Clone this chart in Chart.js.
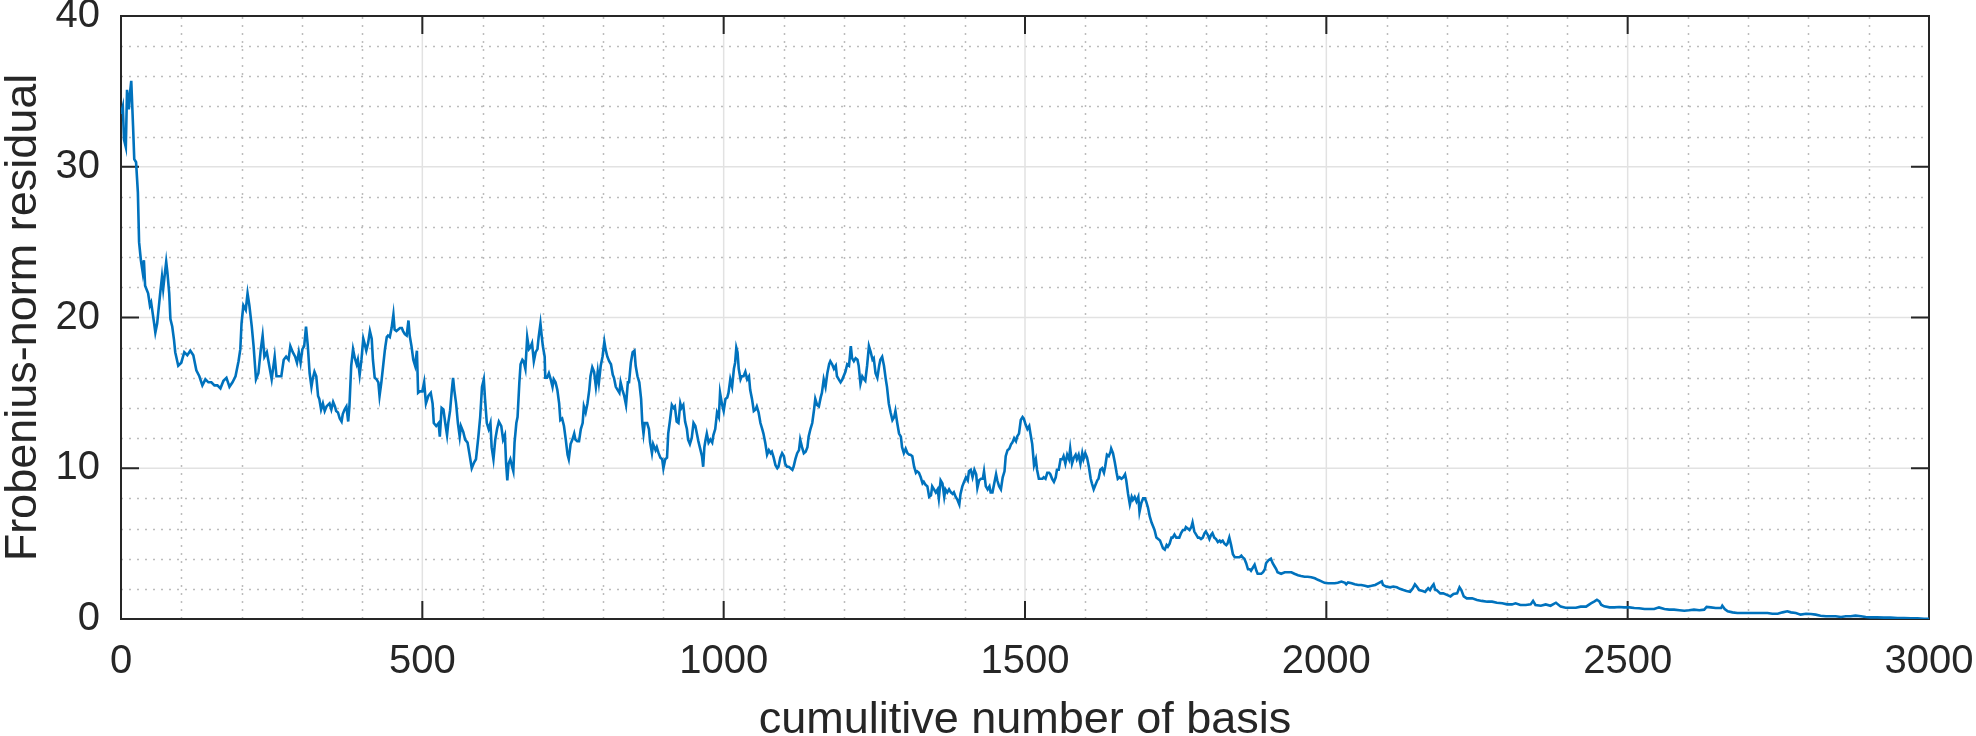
<!DOCTYPE html>
<html>
<head>
<meta charset="utf-8">
<title>Frobenius-norm residual</title>
<script src="https://cdn.jsdelivr.net/npm/chart.js@4.4.1/dist/chart.umd.min.js"></script>
<style>
  html, body { margin: 0; padding: 0; background: #ffffff; }
  #wrap { width: 1976px; height: 736px; }
</style>
</head>
<body>
<div id="wrap"><canvas id="residualChart" width="1976" height="736"></canvas></div>
<script>
// cumulative number of basis (x) and Frobenius-norm residual (y)
const basisCount = [
  0,3,5,8,10,13,15,17,20,22,25,28,30,33,36,38,40,45,48,50,55,57,60,65,68,70,73,75,77,80,82,85,88,90,95,
  100,105,110,115,120,125,130,135,140,145,150,155,160,165,170,175,180,185,190,195,198,200,203,207,210,213,
  217,220,224,228,232,235,238,242,246,250,255,258,262,266,270,274,278,281,285,289,292,295,
  298,301,304,307,310,313,316,318,321,324,327,329,332,335,338,341,346,349,352,355,357,360,363,366,368,371,
  374,377,379,382,385,388,391,393,396,399,402,404,407,410,413,416,418,421,424,427,429,432,435,438,441,443,
  446,449,452,454,457,460,463,466,468,471,474,477,479,482,485,488,491,493,496,
  500,503,506,510,514,517,519,523,527,529,532,535,538,541,543,546,549,551,553,556,
  559,562,564,568,571,575,578,582,586,589,593,596,599,602,604,607,610,613,615,618,
  621,624,627,631,634,637,639,641,643,646,649,651,653,656,658,661,663,666,668,671,
  674,677,679,682,685,688,691,693,696,698,700,703,704,707,710,713,716,718,721,724,
  727,729,732,735,738,741,743,746,749,752,754,757,760,763,766,768,771,774,777,779,
  782,785,788,791,793,796,799,802,804,807,810,813,816,818,821,824,827,829,832,835,
  838,841,843,846,849,852,854,857,860,863,865,867,869,873,876,878,881,883,887,889,
  892,895,898,900,903,906,908,911,914,917,919,922,925,928,930,933,936,939,941,944,
  947,950,953,956,958,961,
  964,966,968,970,972,975,978,981,983,986,989,992,994,997,1000,1003,1006,1008,1011,1014,
  1017,1019,1021,1023,1025,1028,1030,1033,1036,1039,1042,1044,1047,1050,1053,1055,1058,1061,1064,1066,
  1069,1072,1075,1078,1080,1083,1086,1089,1091,1094,1097,1100,1102,1105,1108,1111,1114,1116,1119,1122,
  1125,1127,1130,1133,1136,1139,1141,1144,1147,1150,1152,1155,1158,1161,1163,1166,1169,1172,1175,1177,
  1180,1183,1186,1188,1191,1194,1197,1199,1202,1205,1208,1211,1213,1216,1219,1222,1224,1227,1230,1233,
  1235,1238,1241,1244,1247,1249,1252,1255,1258,1260,1263,1266,1269,1271,1274,1277,1280,1283,1285,1288,
  1291,1294,1296,1299,1302,1305,1308,1310,1313,1316,1319,1321,1324,1327,1330,1332,1335,1338,1341,1344,
  1346,1349,1352,1355,1357,1360,1363,1366,1368,1371,1374,1377,1380,1382,1385,1388,1391,1393,1396,1399,
  1402,1405,1407,1410,1413,1416,1419,1421,1424,
  1427,1430,1432,1435,1438,1441,1443,1446,1449,1452,1454,1457,1460,1463,1466,1468,1471,1474,1477,1479,
  1482,1485,1487,1490,1493,1496,1498,1501,1504,1507,1509,1512,1515,1518,1520,1523,1526,1529,1531,1534,
  1537,1540,1542,1545,1548,1551,1553,1556,1559,1562,1564,1567,1570,1573,1575,1578,1581,1584,1586,1589,
  1592,1595,1597,1600,1603,1606,1609,1611,1614,1617,1620,1622,1625,1628,1631,1633,1636,1639,1642,1643,
  1646,1649,1652,1654,1657,1660,1663,1666,1668,1671,1674,1677,1679,1682,1685,1688,1690,1693,1696,1699,
  1701,1704,1707,1710,1713,1715,1718,1721,1724,1726,1729,1732,1735,1737,1740,1743,1745,1748,1751,1754,
  1756,1759,1762,1765,1767,1770,1773,1776,1778,1781,1784,1787,1789,1792,1795,1798,1800,1803,1806,1809,
  1811,1814,1817,1820,1823,1825,1828,1831,1834,1836,1839,1842,1845,1848,1850,1853,1856,1859,1861,1864,
  1867,1870,1873,1875,1878,1881,1884,1886,1889,1892,1895,1898,1900,1904,
  1908,1911,1914,1917,1919,1925,1931,1936,1942,1947,1953,1958,1964,1969,1975,1981,1986,1992,1997,2003,
  2008,2014,2019,2025,2031,2033,2036,2042,2047,2053,2058,2064,2069,2075,2081,2086,2092,2094,2099,2106,
  2111,2117,2122,2128,2133,2139,2143,2147,2150,2154,2160,2164,2169,2172,2175,2178,2181,2183,2189,2194,
  2200,2206,2211,2217,2221,2224,2228,2233,2242,2250,2258,2267,2275,2283,2292,2300,2308,2314,2322,2331,
  2339,2343,2347,2356,2364,2372,2381,2389,2397,2406,2414,2422,2431,2439,
  2445,2449,2453,2456,2461,2470,2478,2486,2494,2503,2511,2519,2528,2536,2544,2552,2561,2569,2577,2586,
  2594,2602,2610,2619,2627,2631,2638,2646,2655,2657,2661,2666,2674,2682,2691,2699,2707,2715,2724,2732,
  2740,2749,2757,2765,2771,2779,2787,2796,2804,2812,2820,2829,2837,2845,2854,2862,2870,2878,2887,2895,
  2903,2914,2925,2936,2948,2959,2970,2981,2992,3000
];

const residual = [
  33.5,34,31.8,31.3,35.1,33.8,34.9,35.7,32.7,30.5,30.3,28.3,25,23.8,23,23.8,22.1,21.6,20.8,21,19.6,19,19.6,21.6,22.7,21.9,23,23.7,23,21.6,19.9,19.4,18.5,17.7,16.8,
  17,17.7,17.5,17.8,17.5,16.5,16.1,15.5,15.9,15.7,15.7,15.5,15.5,15.3,15.8,16,15.4,15.7,16.1,17.1,17.9,19.6,20.8,20.5,21.6,20.8,
  19.4,18.1,15.9,16.3,17.9,18.8,17.4,17.7,16.8,15.9,17.4,16.1,16.1,16.1,17.2,17.4,17.2,18.1,17.7,17.4,17,17.7,
  17,17.9,18.1,19.4,18.1,16.3,15.4,15.9,16.4,16.1,14.8,14.6,13.9,14.3,13.8,14.1,14.3,13.9,14.4,14.1,13.8,13.7,13.3,13.1,13.6,13.9,
  14.1,13.1,14.1,16.8,17.9,17.3,16.9,17.2,16.2,17.2,18.6,18.3,17.8,18.3,19.1,18.6,17.2,16,15.9,15.7,14.8,15.7,16.8,17.9,18.7,18.8,
  18.7,19.3,20.2,19.2,19.1,19.2,19.3,19.3,19.1,18.9,18.8,19.8,18.8,18.1,17.2,16.8,17.8,15,15.1,
  15.1,15.7,14.3,14.8,15,14.3,13,12.8,13,12.1,14,13.9,13,12.2,13,13.8,15.2,16,15.2,14.3,
  13,12.1,12.8,12.4,11.9,11.7,11,10,10.4,10.6,12.1,13.4,15.4,15.9,14.6,13,12.6,13,11.4,10.6,
  11.9,12.6,13.1,12.8,11.9,12.2,10.3,9.2,10.3,10.6,10.1,9.8,11.7,13,13.4,15.7,16.9,17.2,17.1,16.6,
  18.7,17.9,18,18.3,17.1,17.7,17.9,18.7,19.6,18.8,18.1,17.4,16,16,16.3,15.9,15.4,15.9,15.7,15.2,
  14.3,13.2,13.3,12.8,11.9,10.9,10.6,11.6,11.9,12.3,11.9,11.8,11.8,12.6,13,14.1,13.7,14.3,15.2,16.1,
  16.7,16.4,15.4,16.4,15.7,16.8,17.4,18.4,17.9,17.4,17.1,16.9,16.2,16,15.4,15.2,15,15.7,15.2,14.8,
  14.2,15.7,15.7,17,17.7,17.8,16.8,16.1,15.7,14.6,13,12.3,13,13,12.6,11.7,11,11.6,11.2,11.4,
  11,10.7,10.6,10,10.6,10.7,12.3,13.2,14.2,14,14.1,13.1,13,14.3,14,14.2,13.1,12.6,11.9,11.6,
  12,13,12.8,12.2,11.8,11.3,
  10.8,10.1,11.4,11.9,12.3,11.7,11.9,11.7,12.2,12.6,13.7,13.4,15,14.3,13.8,14.6,14.7,15,15.9,15.4,
  16.6,17,18,17.7,16.6,15.9,16.1,16.1,16.4,15.9,16.1,15.2,14.6,13.8,13.9,14.1,13.7,13,12.6,12.3,
  11.7,10.9,11.2,11,11.1,10.7,10.2,10,10.1,10.7,11,10.8,10.3,10.1,10.1,10,9.9,10.1,10.6,11,
  11.2,11.9,11.4,11,11.1,11.4,12.1,12.6,13,13.9,14.6,14.2,14.1,14.7,15,15.9,15.4,16.3,16.9,17.1,
  16.9,16.6,16.8,16.1,15.9,15.7,15.9,16.1,16.4,16.9,16.8,18.1,17.3,17.1,17.3,17.2,16.8,15.6,16.1,15.9,
  15.8,16.8,18.1,17.7,17.2,17.3,16.3,16,16.8,17.2,17.4,16.8,15.9,15.4,14.3,13.7,13.2,13.4,13.8,13,
  12.3,12.1,11.4,11,11.3,11,10.9,10.9,10.8,10.1,9.7,9.8,9.7,9.4,9,9.1,8.9,8.8,8.1,8.2,
  8.8,8.6,8.4,8.6,8,9.2,9,8.1,8.6,8.4,8.6,8.4,8.3,8.4,8.1,7.9,7.6,8.3,8.8,9.1,
  9.4,9.2,9.8,9.9,9.4,9.9,9.6,8.7,9.2,
  9.3,9.3,9.8,8.8,8.6,8.8,8.4,8.4,9,9.6,9.2,8.8,8.6,9.4,9.8,10.8,11.2,11.3,11.6,11.7,
  12,11.8,12.1,12.3,13.2,13.4,13.3,12.9,12.6,12.8,12.3,11.6,10.2,10.6,9.9,9.3,9.3,9.3,9.4,9.3,
  9.7,9.7,9.6,9.3,9.1,9.4,9.9,9.9,10.6,10.6,10.8,10.3,10.9,10.6,11.3,10.3,10.7,10.9,10.6,10.9,
  10.3,11,10.6,11,10.7,10.1,9.3,9,8.6,8.9,9.2,9.3,9.9,10,9.7,10.1,10.9,10.8,11.1,11.3,
  11,10.4,9.7,9.3,9.4,9.3,9.4,9.6,9.2,8.3,7.6,8.1,7.9,8.1,7.8,8.1,7.1,7.7,8,8,
  7.8,7.4,6.8,6.4,6.1,5.9,5.4,5.3,5.2,5,4.7,4.6,4.9,4.8,5,5.4,5.4,5.6,5.4,5.4,
  5.4,5.7,5.9,5.9,6.1,6,5.9,6.1,6.4,5.8,5.6,5.4,5.4,5.3,5.4,5.7,5.8,5.6,5.3,5.6,
  5.7,5.4,5.3,5.1,5.2,5.1,5.2,5,4.9,5,5.4,4.9,4.3,4.1,4.1,4.1,4.1,4.2,4.1,4,
  3.7,3.3,3.3,3.2,3.4,3.6,3.2,3,3,3,3.1,3.3,3.7,3.9,
  4,3.7,3.5,3.3,3.1,3,3.1,3.1,3.1,3,2.9,2.85,2.8,2.8,2.77,2.7,2.6,2.5,2.4,2.37,
  2.37,2.37,2.4,2.48,2.4,2.3,2.43,2.37,2.3,2.26,2.26,2.2,2.15,2.2,2.26,2.37,2.5,2.26,2.15,2.1,
  2.15,2.1,2,1.92,1.86,1.8,2,2.3,2.15,1.92,1.86,1.8,2.04,1.92,2.15,2.3,1.92,1.92,1.7,1.7,
  1.6,1.5,1.66,1.7,2.1,1.92,1.5,1.37,1.37,1.26,1.2,1.15,1.15,1.08,1.04,0.97,0.97,1.04,0.93,0.93,
  0.97,1.2,0.93,0.88,0.97,0.88,1.08,0.82,0.75,0.75,0.75,0.82,0.82,1.04,
  1.17,1.28,1.17,0.95,0.84,0.77,0.77,0.8,0.77,0.77,0.73,0.71,0.66,0.66,0.66,0.77,0.66,0.62,0.62,0.58,
  0.55,0.58,0.62,0.58,0.62,0.8,0.77,0.73,0.73,0.88,0.66,0.51,0.44,0.4,0.4,0.4,0.4,0.4,0.4,0.4,
  0.35,0.35,0.44,0.51,0.44,0.4,0.29,0.35,0.33,0.29,0.22,0.18,0.18,0.18,0.13,0.18,0.18,0.22,0.18,0.13,
  0.11,0.11,0.09,0.09,0.07,0.07,0.04,0.04,0.02,0.01
];

// tick labels (major) and minor grid spacing
const xTickValues = [0, 500, 1000, 1500, 2000, 2500, 3000];
const yTickValues = [0, 10, 20, 30, 40];
const xMinorStep = 100;
const yMinorStep = 2;

const fontFamily = "'Liberation Sans', Arial, Helvetica, sans-serif";
const textColor = '#262626';
const lineColor = '#0072BD';

// matlab style: minor dotted grid, major grid, box with inward ticks
const matlabAxes = {
  id: 'matlabAxes',
  beforeDatasetsDraw(chart) {
    const { ctx, chartArea: a, scales: { x, y } } = chart;
    ctx.save();

    // minor grid, dotted
    ctx.strokeStyle = '#bcbcbc';
    ctx.lineWidth = 1.5;
    ctx.setLineDash([2, 6]);
    for (let v = x.min + xMinorStep; v < x.max; v += xMinorStep) {
      if (xTickValues.includes(v)) continue;
      const px = Math.round(x.getPixelForValue(v)) + 0.5;
      ctx.beginPath(); ctx.moveTo(px, a.bottom); ctx.lineTo(px, a.top); ctx.stroke();
    }
    for (let v = y.min + yMinorStep; v < y.max; v += yMinorStep) {
      if (yTickValues.includes(v)) continue;
      const py = Math.round(y.getPixelForValue(v)) + 0.5;
      ctx.beginPath(); ctx.moveTo(a.left, py); ctx.lineTo(a.right, py); ctx.stroke();
    }

    // major grid, solid light gray
    ctx.setLineDash([]);
    ctx.strokeStyle = '#e2e2e2';
    ctx.lineWidth = 1.5;
    xTickValues.forEach(v => {
      const px = x.getPixelForValue(v);
      ctx.beginPath(); ctx.moveTo(px, a.bottom); ctx.lineTo(px, a.top); ctx.stroke();
    });
    yTickValues.forEach(v => {
      const py = y.getPixelForValue(v);
      ctx.beginPath(); ctx.moveTo(a.left, py); ctx.lineTo(a.right, py); ctx.stroke();
    });

    // box and inward ticks
    const tickLen = 18;
    ctx.strokeStyle = textColor;
    ctx.lineWidth = 2;
    ctx.strokeRect(a.left, a.top, a.right - a.left, a.bottom - a.top);
    ctx.beginPath();
    xTickValues.forEach(v => {
      const px = x.getPixelForValue(v);
      ctx.moveTo(px, a.bottom); ctx.lineTo(px, a.bottom - tickLen);
      ctx.moveTo(px, a.top); ctx.lineTo(px, a.top + tickLen);
    });
    yTickValues.forEach(v => {
      const py = y.getPixelForValue(v);
      ctx.moveTo(a.left, py); ctx.lineTo(a.left + tickLen, py);
      ctx.moveTo(a.right, py); ctx.lineTo(a.right - tickLen, py);
    });
    ctx.stroke();
    ctx.restore();
  }
};

const ctx = document.getElementById('residualChart').getContext('2d');
new Chart(ctx, {
  type: 'line',
  data: {
    datasets: [{
      data: basisCount.map((b, i) => ({ x: b, y: residual[i] })),
      borderColor: lineColor,
      borderWidth: 2.6,
      pointRadius: 0,
      fill: false,
      tension: 0
    }]
  },
  options: {
    responsive: false,
    animation: false,
    devicePixelRatio: 1,
    layout: { padding: { left: 0, top: 16, right: 47, bottom: 0 } },
    plugins: { legend: { display: false }, tooltip: { enabled: false } },
    scales: {
      x: {
        type: 'linear',
        min: 0,
        max: 3000,
        grid: { display: false, drawTicks: false },
        border: { display: false },
        afterBuildTicks: s => { s.ticks = xTickValues.map(v => ({ value: v })); },
        afterFit: s => { s.height = 117; s.paddingLeft = 0; s.paddingRight = 0; s.paddingTop = 0; s.paddingBottom = 0; },
        ticks: {
          autoSkip: false,
          maxRotation: 0,
          padding: 19,
          color: textColor,
          font: { family: fontFamily, size: 40, lineHeight: 1.2 },
          callback: v => String(v)
        },
        title: {
          display: true,
          text: 'cumulitive number of basis',
          color: textColor,
          padding: 0,
          font: { family: fontFamily, size: 45, lineHeight: '30px' }
        }
      },
      y: {
        type: 'linear',
        min: 0,
        max: 40,
        grid: { display: false, drawTicks: false },
        border: { display: false },
        afterBuildTicks: s => { s.ticks = yTickValues.map(v => ({ value: v })); },
        afterFit: s => { s.width = 121; s.paddingLeft = 0; s.paddingRight = 0; s.paddingTop = 0; s.paddingBottom = 0; },
        ticks: {
          autoSkip: false,
          padding: 21,
          color: textColor,
          font: { family: fontFamily, size: 40, lineHeight: 1.2 },
          callback: v => String(v)
        },
        title: {
          display: true,
          text: 'Frobenius-norm residual',
          color: textColor,
          padding: 0,
          font: { family: fontFamily, size: 45, lineHeight: '48px' }
        }
      }
    }
  },
  plugins: [matlabAxes]
});
</script>
</body>
</html>
